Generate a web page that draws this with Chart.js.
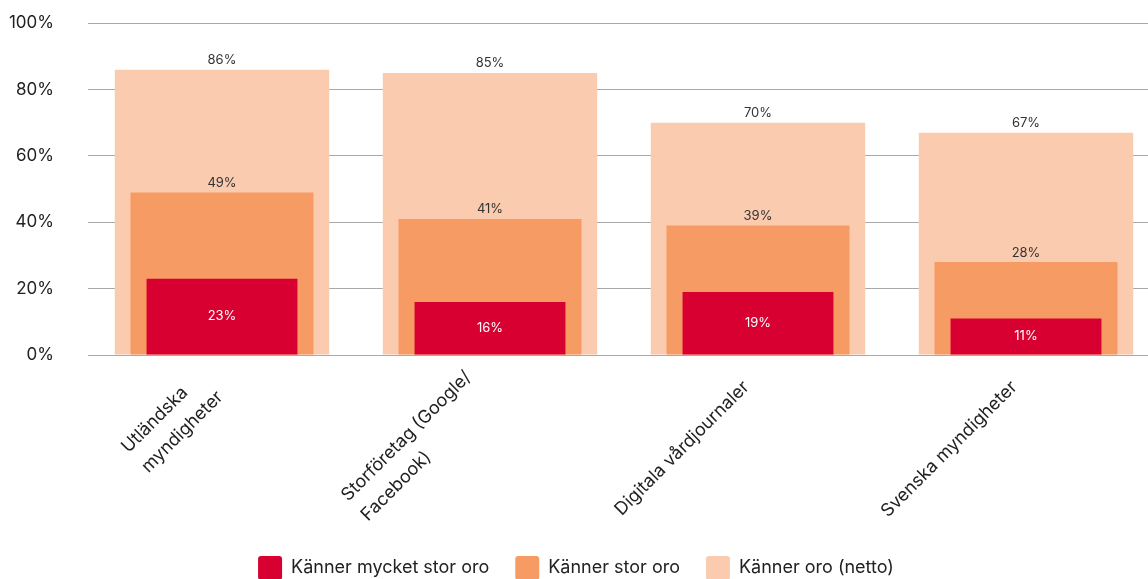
<!DOCTYPE html>
<html>
<head>
<meta charset="utf-8">
<script src="https://cdn.jsdelivr.net/npm/chart.js@4"></script>
<style>
  html, body { margin: 0; padding: 0; background: #fff; }
  .wrap { width: 1148px; height: 579px; overflow: hidden; position: relative; }
  .wrap canvas { position: absolute; left: -8px; top: -21px; }
</style>
</head>
<body>
<div class="wrap"><canvas id="myChart" width="1168" height="611"></canvas></div>
<script>
const categories = [
  ["Utländska", "myndigheter"],
  ["Storföretag (Google/", "Facebook)"],
  ["Digitala vårdjournaler"],
  ["Svenska myndigheter"]
];
const mycketStor = [23, 16, 19, 11];
const stor = [49, 41, 39, 28];
const netto = [86, 85, 70, 67];
const yTicks = [0, 20, 40, 60, 80, 100];

const FONT = "Inter";

// % labels: above the bar, or inside the red one
const valueLabels = {
  id: "valueLabels",
  afterDatasetsDraw(chart) {
    const ctx = chart.ctx;
    ctx.save();
    ctx.font = "13px " + FONT;
    ctx.textAlign = "center";
    chart.data.datasets.forEach(function(ds, i) {
      const meta = chart.getDatasetMeta(i);
      meta.data.forEach(function(bar, j) {
        const txt = ds.data[j] + "%";
        if (ds.inside) {
          ctx.fillStyle = "#ffffff";
          ctx.textBaseline = "middle";
          ctx.fillText(txt, bar.x, (bar.y + bar.base) / 2);
        } else {
          ctx.fillStyle = "#333333";
          ctx.textBaseline = "bottom";
          ctx.fillText(txt, bar.x, bar.y - 3);
        }
      });
    });
    ctx.restore();
  }
};

// rotated category labels, lines left aligned and block centred on the tick
const categoryLabels = {
  id: "categoryLabels",
  afterDraw(chart) {
    const ctx = chart.ctx;
    const xs = chart.scales.x;
    const lh = 28;
    ctx.save();
    ctx.font = "18px " + FONT;
    ctx.fillStyle = "#222";
    ctx.textAlign = "left";
    ctx.textBaseline = "alphabetic";
    categories.forEach(function(lines, i) {
      const px = xs.getPixelForTick(i);
      const maxW = Math.max.apply(null, lines.map(l => ctx.measureText(l).width));
      ctx.save();
      ctx.translate(px - 8, xs.top + 33);
      ctx.rotate(-Math.PI / 4);
      lines.forEach(function(l, k) {
        ctx.fillText(l, -maxW, (k - (lines.length - 1) / 2) * lh);
      });
      ctx.restore();
    });
    ctx.restore();
  }
};

const ctx = document.getElementById("myChart").getContext("2d");

const chart = new Chart(ctx, {
  type: "bar",
  data: {
    labels: categories,
    datasets: [
      {
        label: "Känner mycket stor oro",
        data: mycketStor,
        backgroundColor: "#D70030",
        barPercentage: 0.563,
        categoryPercentage: 1,
        order: 1,
        inside: true
      },
      {
        label: "Känner stor oro",
        data: stor,
        backgroundColor: "#F79B64",
        barPercentage: 0.683,
        categoryPercentage: 1,
        order: 2
      },
      {
        label: "Känner oro (netto)",
        data: netto,
        backgroundColor: "#FACBAF",
        barPercentage: 0.80,
        categoryPercentage: 1,
        order: 3
      }
    ]
  },
  options: {
    responsive: false,
    animation: false,
    grouped: false,
    layout: { padding: { top: -9, left: 0, right: 0, bottom: 0 } },
    plugins: {
      tooltip: { enabled: false },
      legend: {
        position: "bottom",
        labels: {
          font: { family: FONT, size: 18 },
          color: "#222",
          boxWidth: 24,
          boxHeight: 24,
          useBorderRadius: true,
          borderRadius: 3,
          padding: 26
        }
      }
    },
    scales: {
      x: {
        grid: { display: false, drawTicks: false },
        border: { display: false },
        ticks: { display: false },
        afterFit(s) { s.height = 175; }
      },
      y: {
        min: 0,
        max: 100,
        afterBuildTicks(s) { s.ticks = yTicks.map(v => ({ value: v })); },
        grid: { color: "#a9a9a9", lineWidth: 1, drawTicks: false },
        border: { display: false },
        ticks: {
          font: { family: FONT, size: 17 },
          color: "#222",
          padding: 34,
          callback: v => v + "%"
        },
        afterFit(s) { s.width = 96; }
      }
    }
  },
  plugins: [valueLabels, categoryLabels]
});
</script>
</body>
</html>
